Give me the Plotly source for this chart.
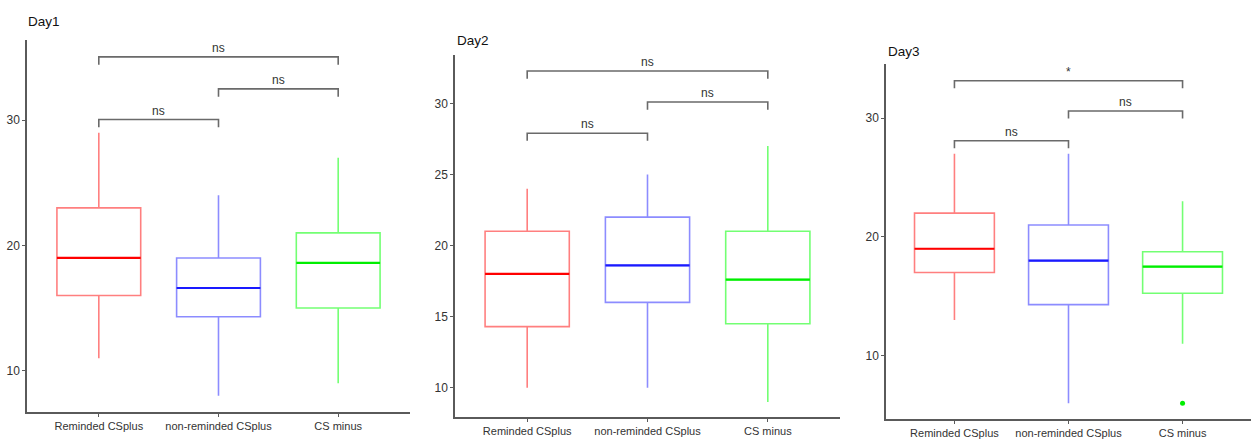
import plotly.graph_objects as go

W, H = 1256, 439

categories = ["Reminded CSplus", "non-reminded CSplus", "CS minus"]
panel_titles = ["Day1", "Day2", "Day3"]

# box statistics per panel: [Reminded, non-reminded, CS minus]
lower_whisker = [[11, 8, 9], [10, 10, 9], [13, 6, 11]]
q1_vals = [[16, 14.3, 15], [14.3, 16, 14.5], [17, 14.3, 15.25]]
median_vals = [[19, 16.6, 18.6], [18, 18.6, 17.6], [19, 18, 17.5]]
q3_vals = [[23, 19, 21], [21, 22, 21], [22, 21, 18.75]]
upper_whisker = [[29, 24, 27], [24, 25, 27], [27, 27, 23]]

# outliers: (panel, category index, value)
outliers = [(2, 2, 6)]

# significance comparisons: (group a, group b, bracket height, label)
comparisons = [
    [(0, 2, 35.05, "ns"), (1, 2, 32.5, "ns"), (0, 1, 30.05, "ns")],
    [(0, 2, 32.27, "ns"), (1, 2, 30.09, "ns"), (0, 1, 27.9, "ns")],
    [(0, 2, 33.14, "*"), (1, 2, 30.59, "ns"), (0, 1, 28.09, "ns")],
]

y_ranges = [[6.7, 36.4], [7.92, 33.4], [4.65, 34.52]]
y_ticks = [[10, 20, 30], [10, 15, 20, 25, 30], [10, 20, 30]]

# pixel layout of panels (left, right, top, bottom)
panel_px = [(27, 410, 40, 412), (455, 840, 55, 417.3), (886, 1251, 64.3, 419.3)]
title_px = [(26, 22), (455, 40), (886, 51)]

light = ["rgba(255,0,0,0.5)", "rgba(0,0,255,0.45)", "rgba(0,255,0,0.55)"]
strong = ["#ff0000", "#1a1aff", "#00ee00"]

FONT = "Liberation Sans, Arial, sans-serif"
BOX_W = 0.7
GRAY = "#5a5a5a"

fig = go.Figure()
layout = dict(
    width=W, height=H, margin=dict(l=0, r=0, t=0, b=0, autoexpand=False),
    paper_bgcolor="white", plot_bgcolor="white", showlegend=False,
    font=dict(family=FONT, size=11, color="#333"),
    shapes=[], annotations=[],
)

xpos = [1, 2, 3]
for p in range(3):
    sfx = "" if p == 0 else str(p + 1)
    xa, ya = "x" + sfx, "y" + sfx
    l, r, t, b = panel_px[p]
    layout["xaxis" + sfx] = dict(
        domain=[l / W, r / W], range=[0.4, 3.6], anchor=ya, automargin=False,
        tickvals=xpos, ticktext=categories, tickangle=0, showline=True,
        linecolor=GRAY, linewidth=1.5, ticks="outside", ticklen=3,
        tickcolor=GRAY, showgrid=False, zeroline=False,
        tickfont=dict(size=11, color="#333"),
    )
    layout["yaxis" + sfx] = dict(
        domain=[1 - b / H, 1 - t / H], range=y_ranges[p], anchor=xa,
        automargin=False, tickvals=y_ticks[p], showline=True, linecolor=GRAY,
        linewidth=1.5, ticks="outside", ticklen=3, tickcolor=GRAY,
        showgrid=False, zeroline=False, tickfont=dict(size=12, color="#333"),
    )
    for c in range(3):
        fig.add_trace(go.Box(
            x=[xpos[c]], q1=[q1_vals[p][c]], median=[median_vals[p][c]],
            q3=[q3_vals[p][c]], lowerfence=[lower_whisker[p][c]],
            upperfence=[upper_whisker[p][c]], width=BOX_W, whiskerwidth=0,
            line=dict(color=light[c], width=1.6), fillcolor="rgba(0,0,0,0)",
            boxpoints=False, xaxis=xa, yaxis=ya, hoverinfo="skip",
        ))
        fig.add_trace(go.Scatter(
            x=[xpos[c] - BOX_W / 2, xpos[c] + BOX_W / 2],
            y=[median_vals[p][c], median_vals[p][c]], mode="lines",
            line=dict(color=strong[c], width=2.2), xaxis=xa, yaxis=ya,
            hoverinfo="skip",
        ))
    for (op, oc, ov) in outliers:
        if op == p:
            fig.add_trace(go.Scatter(
                x=[xpos[oc]], y=[ov], mode="markers",
                marker=dict(color=strong[oc], size=5), xaxis=xa, yaxis=ya,
            ))
    drop = 0.021 * (y_ranges[p][1] - y_ranges[p][0])
    for (a, bb, yv, lab) in comparisons[p]:
        x1, x2 = xpos[a], xpos[bb]
        layout["shapes"].append(dict(
            type="path", xref=xa, yref=ya,
            path=f"M {x1},{yv - drop} L {x1},{yv} L {x2},{yv} L {x2},{yv - drop}",
            line=dict(color="#6a6a6a", width=1.6),
        ))
        layout["annotations"].append(dict(
            x=(x1 + x2) / 2, y=yv, xref=xa, yref=ya, text=lab,
            showarrow=False, yanchor="bottom", yshift=0,
            font=dict(size=12, color="#333"),
        ))
    tx, ty = title_px[p]
    layout["annotations"].append(dict(
        x=tx / W, y=1 - ty / H, xref="paper", yref="paper", text=panel_titles[p],
        showarrow=False, xanchor="left", yanchor="middle",
        font=dict(size=13.5, color="#111"),
    ))

fig.update_layout(**layout)
fig.write_html("out.html")
